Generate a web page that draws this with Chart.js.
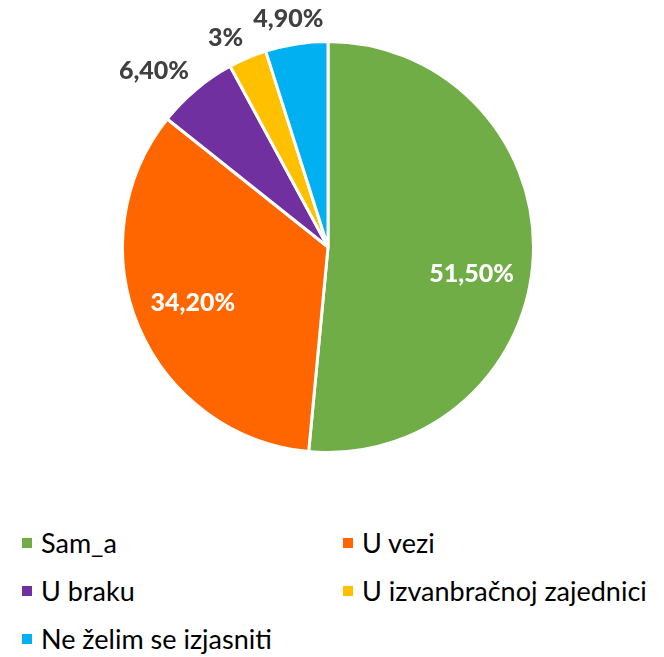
<!DOCTYPE html>
<html>
<head>
<meta charset="utf-8">
<script src="https://cdn.jsdelivr.net/npm/chart.js@4"></script>
<style>
  html, body { margin: 0; padding: 0; background: #fff; }
  #wrap { position: relative; width: 664px; height: 657px; }
  #cv { position: absolute; left: 0; top: 0; }
  .leg { position: absolute; font-family: Lato, "Liberation Sans", sans-serif; font-size: 27px; color: #000; white-space: nowrap; line-height: 27px; }
  .sw { position: absolute; width: 10px; height: 10px; }
</style>
</head>
<body>
<div id="wrap">
  <div style="position:absolute;left:0;top:0;width:664px;height:500px;"><canvas id="cv"></canvas></div>
  <div id="legend"></div>
</div>
<script>
const categories = ["Sam_a", "U vezi", "U braku", "U izvanbračnoj zajednici", "Ne želim se izjasniti"];
const values = [51.5, 34.2, 6.4, 3, 4.9];
const valueLabels = ["51,50%", "34,20%", "6,40%", "3%", "4,90%"];
const colors = ["#70AD47", "#FF6600", "#7030A0", "#FFC000", "#00B0F0"];

const labelPlugin = {
  id: 'sliceLabels',
  afterDatasetsDraw(chart, args, opts) {
    const ctx = chart.ctx;
    const meta = chart.getDatasetMeta(0);
    ctx.save();
    ctx.font = '900 25px Lato, "Liberation Sans", sans-serif';
    ctx.textAlign = 'center';
    ctx.textBaseline = 'middle';
    meta.data.forEach((arc, i) => {
      const p = arc.getProps(['x', 'y', 'startAngle', 'endAngle', 'outerRadius']);
      const mid = (p.startAngle + p.endAngle) / 2;
      const txt = valueLabels[i];
      const w = ctx.measureText(txt).width;
      const h = 18;
      const inside = values[i] > 10;
      const ang = mid + (opts.angleShift[i] || 0) * Math.PI / 180;
      let r;
      if (inside) {
        r = p.outerRadius * 0.71;
        ctx.fillStyle = '#FFFFFF';
      } else {
        const c = Math.abs(Math.cos(ang)), s = Math.abs(Math.sin(ang));
        r = p.outerRadius + 12 + c * w / 2 + s * h / 2;
        ctx.fillStyle = '#404040';
      }
      ctx.fillText(txt, p.x + Math.cos(ang) * r, p.y + Math.sin(ang) * r + 1);
    });
    ctx.restore();
  }
};

new Chart(document.getElementById('cv'), {
  type: 'pie',
  data: {
    labels: categories,
    datasets: [{
      data: values,
      backgroundColor: colors,
      borderColor: '#FFFFFF',
      borderWidth: 3
    }]
  },
  options: {
    responsive: true,
    maintainAspectRatio: false,
    animation: false,
    layout: { padding: { left: 121, right: 129, top: 40, bottom: 46 } },
    plugins: {
      legend: { display: false },
      tooltip: { enabled: false },
      sliceLabels: { angleShift: [7.5, 1, -4.5, -3, -1] }
    }
  },
  plugins: [labelPlugin]
});

// HTML legend in two columns
const legend = document.getElementById('legend');
const colX = [22, 343];
const rowY = [543, 591, 639];
categories.forEach((name, i) => {
  const col = i % 2, row = Math.floor(i / 2);
  const sw = document.createElement('div');
  sw.className = 'sw';
  sw.style.left = colX[col] + 'px';
  sw.style.top = (rowY[row] - 5) + 'px';
  sw.style.background = colors[i];
  legend.appendChild(sw);
  const t = document.createElement('div');
  t.className = 'leg';
  t.textContent = name;
  t.style.left = (colX[col] + 19) + 'px';
  t.style.top = (rowY[row] - 14) + 'px';
  legend.appendChild(t);
});
</script>
</body>
</html>
